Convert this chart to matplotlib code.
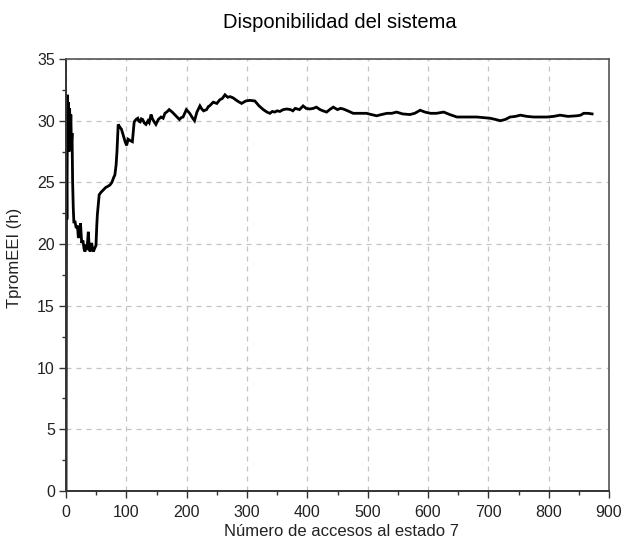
import matplotlib
matplotlib.use("Agg")
import matplotlib.pyplot as plt
from matplotlib.ticker import MultipleLocator
from matplotlib import font_manager

accesos = [0, 0.8, 1.5, 2.5, 3, 4, 5, 6, 7, 8, 9, 10, 11, 12, 13, 15, 17, 19, 20.5, 22,
           24, 26, 28, 30, 31.5, 33, 35, 37, 38.5, 40, 42.5, 44, 45.5, 47, 49.7, 51, 52, 55, 58, 62,
           66, 70, 73, 76, 79, 81, 83, 84.5, 86.5, 89, 92, 95, 98, 100.5, 103, 106, 110, 113, 116, 119,
           121, 123, 125, 127, 130, 132.5, 136, 138, 141, 143, 145, 149, 153, 157.5, 161, 164, 168, 171, 176, 182,
           188, 191, 194, 199.5, 205, 210, 213, 217, 222, 225, 228, 233, 236, 238, 244, 250, 255, 259, 263.5, 268,
           272, 277, 284, 291, 298, 305, 313, 320, 327, 333, 338, 342, 346, 350, 354.5, 360, 366, 372, 376, 380,
           387, 393, 398, 404, 410, 415, 421, 426, 432, 437, 443, 450, 455, 459.5, 467, 476, 487, 498, 506, 515,
           523, 532, 540, 548, 558, 570, 578, 587, 595, 604, 614, 626, 636, 648, 660, 672, 681, 692, 703, 712,
           720, 728, 736, 745, 753, 764, 775, 786, 797, 808, 819, 832, 847, 853, 858, 865, 872]
tprom = [0, 26.7, 22, 32.1, 30, 31.5, 27.5, 31, 28.6, 30.5, 28, 29, 25, 23, 21.8, 21.8, 21.3, 21.5, 20.5, 20.8,
         21.7, 20.1, 20.3, 19.6, 19.4, 19.8, 19.7, 21.0, 19.7, 19.4, 20.1, 19.6, 19.4, 19.6, 19.9, 21.5, 22.4, 24.0, 24.2, 24.4,
         24.6, 24.7, 24.8, 25.0, 25.4, 25.6, 26.4, 27.5, 29.7, 29.5, 29.3, 28.8, 28.3, 28.0, 28.5, 28.4, 28.3, 29.9, 30.1, 30.2,
         29.95, 29.9, 30.15, 30.1, 29.8, 29.7, 30.0, 29.85, 30.5, 30.2, 30.0, 29.7, 30.1, 30.3, 30.2, 30.6, 30.75, 30.9, 30.7, 30.4,
         30.1, 30.25, 30.3, 30.9, 30.6, 30.2, 30.0, 30.7, 31.2, 30.95, 30.8, 30.9, 31.15, 31.2, 31.5, 31.4, 31.7, 31.8, 32.1, 31.9,
         31.95, 31.85, 31.6, 31.4, 31.6, 31.65, 31.6, 31.2, 30.9, 30.7, 30.6, 30.75, 30.7, 30.8, 30.75, 30.9, 30.95, 30.9, 30.8, 31.0,
         30.9, 31.2, 31.0, 30.95, 31.0, 31.1, 30.9, 30.8, 30.7, 30.9, 31.1, 30.9, 31.0, 30.95, 30.8, 30.6, 30.6, 30.6, 30.5, 30.4,
         30.5, 30.6, 30.6, 30.7, 30.55, 30.5, 30.6, 30.85, 30.7, 30.6, 30.6, 30.7, 30.5, 30.3, 30.3, 30.3, 30.3, 30.25, 30.2, 30.1,
         30.0, 30.1, 30.3, 30.35, 30.45, 30.35, 30.3, 30.3, 30.3, 30.35, 30.45, 30.35, 30.4, 30.45, 30.6, 30.6, 30.55]
assert len(accesos) == len(tprom)

x_ticks = list(range(0, 901, 100))
y_ticks = list(range(0, 36, 5))

names = {f.name for f in font_manager.fontManager.ttflist}
fam = "Liberation Sans Narrow" if "Liberation Sans Narrow" in names else "Liberation Sans"
plt.rcParams['font.family'] = [fam, 'DejaVu Sans']

fig = plt.figure(figsize=(6.31, 5.52), dpi=100)
ax = fig.add_axes([66/631, 1 - 491/552, (609 - 66)/631, (491 - 59)/552])

ax.plot(accesos, tprom, color='black', linewidth=2.0, solid_joinstyle='miter')

ax.set_xlim(0, 900)
ax.set_ylim(0, 35)
ax.set_xticks(x_ticks)
ax.set_yticks(y_ticks)
ax.xaxis.set_minor_locator(MultipleLocator(50))
ax.yaxis.set_minor_locator(MultipleLocator(2.5))
ax.tick_params(which='major', direction='out', length=5, width=1, colors='#333333',
               labelsize=11.5, labelcolor='#222222', pad=3)
ax.tick_params(axis='x', which='major', pad=5)
ax.tick_params(which='minor', direction='out', length=3, width=1, colors='#333333')

ax.grid(True, which='major', color='#c4c4c4', linestyle=(0, (4, 4)), linewidth=0.9)
ax.set_axisbelow(True)
for side in ['left', 'bottom']:
    ax.spines[side].set_color('#333333')
    ax.spines[side].set_linewidth(1.4)
for side in ['top', 'right']:
    ax.spines[side].set_color('#555555')
    ax.spines[side].set_linewidth(1.2)

fig.text(340/631, 1 - 22/552, 'Disponibilidad del sistema', ha='center', va='center',
         fontsize=14.5, color='black')
fig.text(341/631, 1 - 531/552, 'Número de accesos al estado 7', ha='center', va='center',
         fontsize=12, color='#222222')
fig.text(15/631, 1 - 258/552, 'TpromEEI (h)', ha='center', va='center', rotation=90,
         fontsize=12, color='#222222')

fig.savefig('out.png', dpi=100, facecolor='white')
